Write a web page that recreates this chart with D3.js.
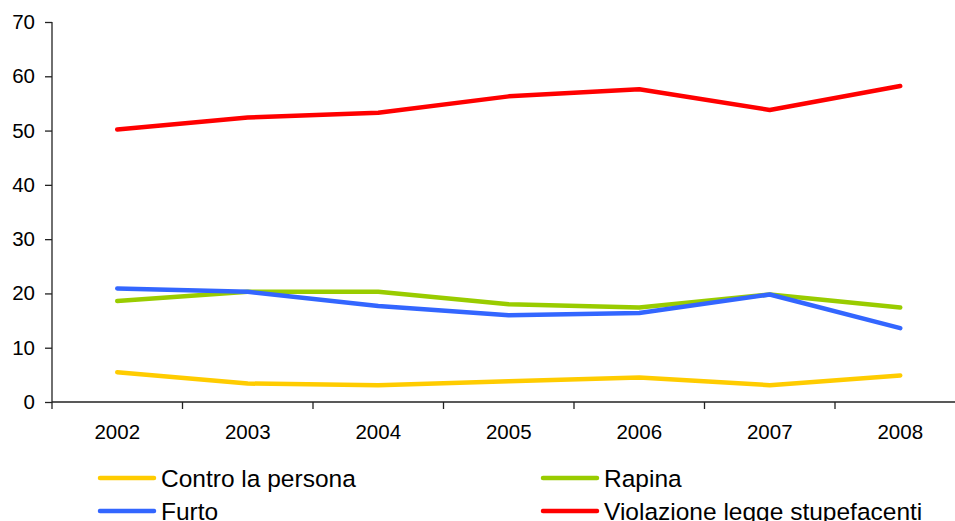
<!DOCTYPE html>
<html>
<head>
<meta charset="utf-8">
<script src="https://cdn.jsdelivr.net/npm/d3@7"></script>
<style>
  html, body { margin: 0; padding: 0; background: #fff; }
  svg { display: block; font-family: "Liberation Sans", Arial, sans-serif; }
</style>
</head>
<body>
<svg id="chart" width="955" height="521"></svg>
<script>
const years = ["2002", "2003", "2004", "2005", "2006", "2007", "2008"];
const contro = [5.5, 3.4, 3.1, 3.8, 4.5, 3.1, 4.9];
const rapina = [18.6, 20.3, 20.3, 18.0, 17.4, 19.8, 17.4];
const furto = [20.9, 20.3, 17.7, 16.0, 16.4, 19.8, 13.6];
const violazione = [50.2, 52.4, 53.3, 56.3, 57.6, 53.8, 58.2];
const yTicks = [0, 10, 20, 30, 40, 50, 60, 70];

const seriesNames = ["Contro la persona", "Rapina", "Furto", "Violazione legge stupefacenti"];
const seriesValues = [contro, rapina, furto, violazione];
const seriesColors = ["#FFCC00", "#99CC00", "#3366FF", "#FF0000"];

const svg = d3.select("#chart");
const mLeft = 52, mRight = 965.5, mTop = 22, mBottom = 402;

const x = d3.scaleBand().domain(years).range([mLeft, mRight]);
const y = d3.scaleLinear().domain([0, 70]).range([mBottom, mTop]);

// Y axis
const yAxis = svg.append("g")
  .attr("transform", `translate(${mLeft},0)`)
  .call(d3.axisLeft(y).tickValues(yTicks).tickSize(7).tickPadding(10).tickFormat(d3.format("d")));
yAxis.select(".domain").attr("stroke", "#222").attr("stroke-width", 1.3).attr("d", `M0,${mBottom}V${mTop}`);
yAxis.selectAll(".tick line").attr("stroke", "#222").attr("stroke-width", 1.3);
yAxis.selectAll(".tick text").attr("font-size", 20.5).attr("fill", "#000")
  .attr("font-family", "Liberation Sans, Arial, sans-serif");

// X axis
const xAxis = svg.append("g")
  .attr("transform", `translate(0,${mBottom})`)
  .call(d3.axisBottom(x).tickSize(0).tickPadding(22));
xAxis.select(".domain").attr("stroke", "#222").attr("stroke-width", 1.3).attr("d", `M${mLeft},0H${mRight}`);
xAxis.selectAll(".tick text").attr("font-size", 20.5).attr("fill", "#000")
  .attr("font-family", "Liberation Sans, Arial, sans-serif");
// category boundary ticks
const bounds = years.map(d => x(d)).concat([x(years[years.length - 1]) + x.bandwidth()]);
svg.append("g").selectAll("line").data(bounds).join("line")
  .attr("x1", d => d).attr("x2", d => d)
  .attr("y1", mBottom).attr("y2", mBottom + 7)
  .attr("stroke", "#222").attr("stroke-width", 1.3);

// Lines
const line = d3.line()
  .x((d, i) => x(years[i]) + x.bandwidth() / 2)
  .y(d => y(d));

svg.append("g").selectAll("path").data(seriesValues).join("path")
  .attr("d", d => line(d))
  .attr("fill", "none")
  .attr("stroke", (d, i) => seriesColors[i])
  .attr("stroke-width", 4.5)
  .attr("stroke-linecap", "round")
  .attr("stroke-linejoin", "round");

// Legend
const legendPos = [
  { lx: 100, ly: 478 }, { lx: 543, ly: 478 },
  { lx: 100, ly: 511 }, { lx: 543, ly: 511 }
];
const lg = svg.append("g").selectAll("g").data(seriesNames).join("g")
  .attr("transform", (d, i) => `translate(${legendPos[i].lx},${legendPos[i].ly})`);
lg.append("line")
  .attr("x1", 0).attr("x2", 54).attr("y1", 0).attr("y2", 0)
  .attr("stroke", (d, i) => seriesColors[i])
  .attr("stroke-width", 4.5)
  .attr("stroke-linecap", "round");
lg.append("text")
  .attr("x", 61).attr("y", 9)
  .attr("font-size", 24.5)
  .attr("fill", "#000")
  .text(d => d);
</script>
</body>
</html>
